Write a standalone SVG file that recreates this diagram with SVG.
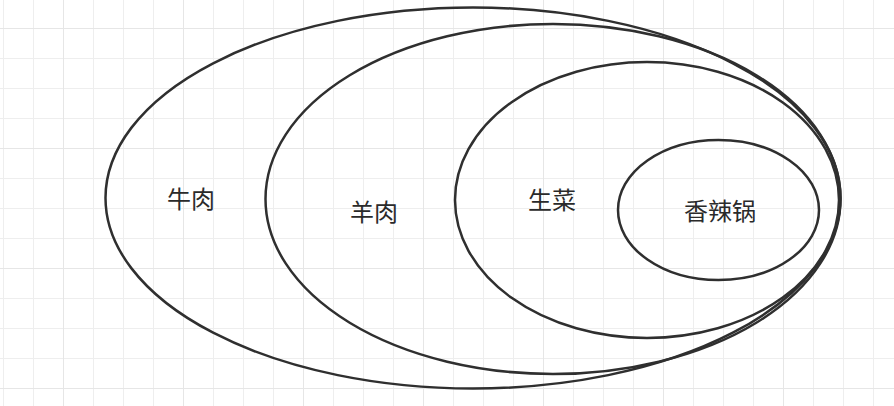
<svg xmlns="http://www.w3.org/2000/svg" width="894" height="406" viewBox="0 0 894 406">
  <defs>
    <pattern id="minor" patternUnits="userSpaceOnUse" x="0" y="0" width="30" height="30">
      <path d="M3.5 0 V30 M0 28.5 H30" stroke="#eeeeee" stroke-width="1" fill="none"/>
    </pattern>
    <pattern id="major" patternUnits="userSpaceOnUse" x="0" y="0" width="120" height="120">
      <path d="M63.5 0 V120 M0 28.5 H120" stroke="#e6e6e6" stroke-width="1" fill="none"/>
    </pattern>
    <style>
      .shape { fill: none; stroke: #2f2f2f; stroke-width: 2.5; }
      .label { font-family: "Noto Sans CJK SC", "Liberation Sans", sans-serif; font-size: 24px; fill: #2a2a2a; text-anchor: middle; }
    </style>
  </defs>
  <rect width="894" height="406" fill="#ffffff"/>
  <rect width="894" height="406" fill="url(#minor)"/>
  <rect width="894" height="406" fill="url(#major)"/>
  <g id="beef">
    <ellipse class="shape" cx="473" cy="198" rx="367.5" ry="190.5"/>
    <text class="label" x="191" y="208">牛肉</text>
  </g>
  <g id="lamb">
    <ellipse class="shape" cx="553" cy="199" rx="287.5" ry="175"/>
    <text class="label" x="374" y="221">羊肉</text>
  </g>
  <g id="lettuce">
    <ellipse class="shape" cx="647" cy="200" rx="192" ry="138"/>
    <text class="label" x="552" y="209">生菜</text>
  </g>
  <g id="hotpot">
    <ellipse class="shape" cx="718.5" cy="210" rx="100.5" ry="70"/>
    <text class="label" x="720" y="220">香辣锅</text>
  </g>
  <g id="connectors"/>
</svg>
